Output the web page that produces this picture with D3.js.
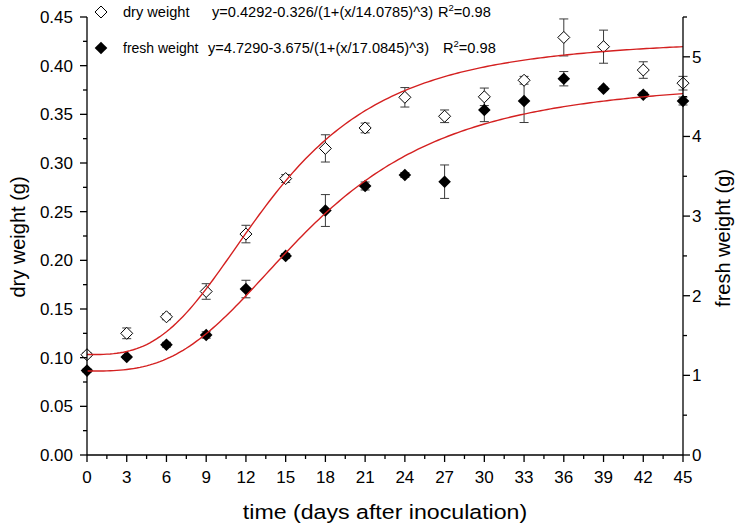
<!DOCTYPE html>
<html>
<head>
<meta charset="utf-8">
<script src="https://cdn.jsdelivr.net/npm/d3@7/dist/d3.min.js"></script>
<style>
html,body{margin:0;padding:0;background:#fff;}
svg{display:block;font-family:"Liberation Sans",Arial,sans-serif;}
</style>
</head>
<body>
<svg id="chart" width="740" height="528"></svg>
<script>
// ---- data ----
const days = [0,3,6,9,12,15,18,21,24,27,30,33,36,39,42,45];
const dryMean = [0.103,0.125,0.142,0.168,0.227,0.284,0.315,0.336,0.3675,0.348,0.368,0.385,0.429,0.4195,0.3955,0.382];
const dryErr  = [0.002,0.0055,0.003,0.008,0.009,0.004,0.014,0.005,0.010,0.0065,0.009,0.004,0.019,0.017,0.0085,0.007];
const freshMean = [1.06,1.23,1.385,1.507,2.084,2.50,3.07,3.378,3.516,3.432,4.332,4.445,4.725,4.60,4.524,4.445];
const freshErr  = [0.02,0.02,0.03,0.04,0.11,0.03,0.20,0.05,0.03,0.21,0.146,0.27,0.09,0.02,0.03,0.05];
// fitted model parameters shown in the legend: y = a - b/(1+(x/c)^n)
const dryFit = [0.4292, 0.326, 14.0785, 3];
const freshFit = [4.7290, 3.675, 17.0845, 3];
const xTicks = [0,3,6,9,12,15,18,21,24,27,30,33,36,39,42,45];
const leftTicks = [0,0.05,0.10,0.15,0.20,0.25,0.30,0.35,0.40,0.45];
const rightTicks = [0,1,2,3,4,5];
const legendLabels = ["dry weight","fresh weight"];
const legendEqs = ["y=0.4292-0.326/(1+(x/14.0785)^3)","y=4.7290-3.675/(1+(x/17.0845)^3)"];
const legendR2 = ["0.98","0.98"];

// ---- layout ----
const svg = d3.select("#chart");
const L = 87, R = 683, T = 17, B = 455;
const x = d3.scaleLinear().domain([0,45]).range([L,R]);
const yL = d3.scaleLinear().domain([0,0.45]).range([B,T]);
const yR = d3.scaleLinear().domain([0,5.5]).range([B,T]);

const fitFn = p => t => p[0] - p[1]/(1+Math.pow(t/p[2],p[3]));
function diamondPath(s){ return `M0,${-s}L${s},0L0,${s}L${-s},0Z`; }

// error bars
function errBars(mean, err, ys){
  const g = svg.append("g").attr("stroke","#3a3a3a").attr("stroke-width",1).attr("fill","none");
  days.forEach((d,i)=>{
    const cx = x(d), y1 = ys(mean[i]+err[i]), y2 = ys(mean[i]-err[i]);
    g.append("line").attr("x1",cx).attr("x2",cx).attr("y1",y1).attr("y2",y2);
    g.append("line").attr("x1",cx-4.5).attr("x2",cx+4.5).attr("y1",y1).attr("y2",y1);
    g.append("line").attr("x1",cx-4.5).attr("x2",cx+4.5).attr("y1",y2).attr("y2",y2);
  });
}
errBars(dryMean, dryErr, yL);
errBars(freshMean, freshErr, yR);

// points
svg.append("g").selectAll("path").data(days).join("path")
  .attr("d", diamondPath(6))
  .attr("transform",(d,i)=>`translate(${x(d)},${yL(dryMean[i])})`)
  .attr("fill","#fff").attr("stroke","#000").attr("stroke-width",1);
svg.append("g").selectAll("path").data(days).join("path")
  .attr("d", diamondPath(6.3))
  .attr("transform",(d,i)=>`translate(${x(d)},${yR(freshMean[i])})`)
  .attr("fill","#000");

// fit curves
const xs = d3.range(0,45.001,0.25);
const line = d3.line().curve(d3.curveLinear);
svg.append("path").attr("d", line(xs.map(t=>[x(t), yL(fitFn(dryFit)(t))])))
  .attr("fill","none").attr("stroke","#d42020").attr("stroke-width",1.4);
svg.append("path").attr("d", line(xs.map(t=>[x(t), yR(fitFn(freshFit)(t))])))
  .attr("fill","none").attr("stroke","#d42020").attr("stroke-width",1.4);

// axes
const axG = svg.append("g").attr("stroke","#000").attr("stroke-width",1.3);
axG.append("line").attr("x1",L).attr("x2",L).attr("y1",T).attr("y2",B);
axG.append("line").attr("x1",R).attr("x2",R).attr("y1",T).attr("y2",B);
axG.append("line").attr("x1",L).attr("x2",R).attr("y1",B).attr("y2",B);

const tickFont = 17;
// bottom
xTicks.forEach(t=>{
  axG.append("line").attr("x1",x(t)).attr("x2",x(t)).attr("y1",B).attr("y2",B+7);
  svg.append("text").attr("x",x(t)).attr("y",483).attr("text-anchor","middle")
    .attr("font-size",tickFont).text(t);
});
xTicks.slice(0,-1).forEach(t=>{
  const m = t+1.5;
  axG.append("line").attr("x1",x(m)).attr("x2",x(m)).attr("y1",B).attr("y2",B+4);
});
// left
leftTicks.forEach(t=>{
  axG.append("line").attr("x1",L-7).attr("x2",L).attr("y1",yL(t)).attr("y2",yL(t));
  svg.append("text").attr("x",73).attr("y",yL(t)+6).attr("text-anchor","end")
    .attr("font-size",tickFont).text(d3.format(".2f")(t));
});
leftTicks.slice(0,-1).forEach(t=>{
  const m = t+0.025;
  axG.append("line").attr("x1",L-4).attr("x2",L).attr("y1",yL(m)).attr("y2",yL(m));
});
// right
rightTicks.forEach(t=>{
  axG.append("line").attr("x1",R).attr("x2",R+7).attr("y1",yR(t)).attr("y2",yR(t));
  svg.append("text").attr("x",692).attr("y",yR(t)+6).attr("text-anchor","start")
    .attr("font-size",tickFont).text(t);
});
rightTicks.forEach(t=>{
  const m = t+0.5;
  axG.append("line").attr("x1",R).attr("x2",R+4).attr("y1",yR(m)).attr("y2",yR(m));
});

// axis titles
svg.append("text").attr("transform",`translate(${(L+R)/2},519) scale(1.13,1)`).attr("text-anchor","middle")
  .attr("font-size",20.5).text("time (days after inoculation)");
svg.append("text").attr("transform","translate(25,237) rotate(-90)").attr("text-anchor","middle")
  .attr("font-size",20).text("dry weight (g)");
svg.append("text").attr("transform","translate(730,238) rotate(-90)").attr("text-anchor","middle")
  .attr("font-size",20).text("fresh weight (g)");

// legend
const legY = [12, 48];
const labFs = [14.6, 14.0];
const eqX = [212, 208];
const r2X = [438, 443];
svg.append("path").attr("d",diamondPath(6)).attr("transform",`translate(101,${legY[0]})`)
  .attr("fill","#fff").attr("stroke","#000");
svg.append("path").attr("d",diamondPath(6.3)).attr("transform",`translate(101,${legY[1]})`)
  .attr("fill","#000");
legendLabels.forEach((lab,i)=>{
  const fs = 14.6;
  svg.append("text").attr("x",123).attr("y",legY[i]+5).attr("font-size",labFs[i]).text(lab);
  svg.append("text").attr("x",eqX[i]).attr("y",legY[i]+5).attr("font-size",fs).text(legendEqs[i]);
  const t = svg.append("text").attr("x",r2X[i]).attr("y",legY[i]+5).attr("font-size",fs);
  t.append("tspan").text("R");
  t.append("tspan").attr("font-size",9.5).attr("dy",-6).text("2");
  t.append("tspan").attr("dy",6).text("=" + legendR2[i]);
});
</script>
</body>
</html>
